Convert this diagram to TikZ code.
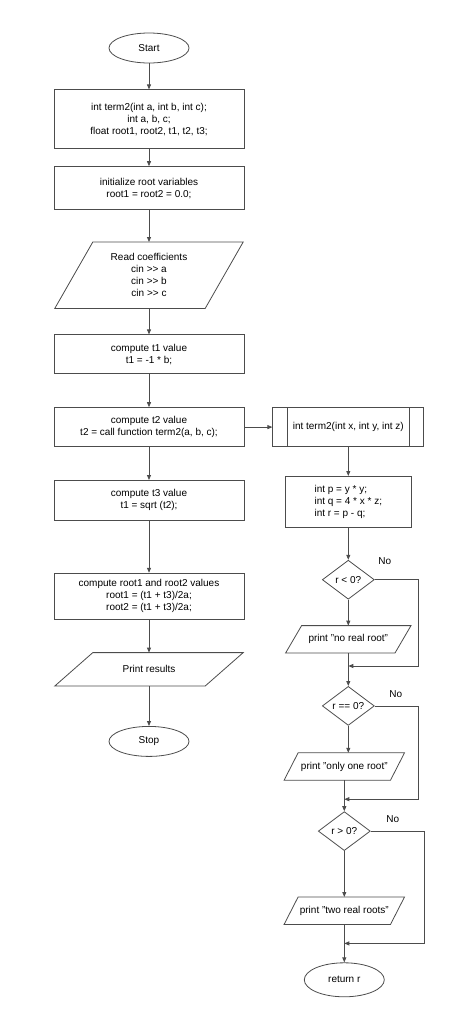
\documentclass[tikz,border=0pt]{standalone}
\usepackage{fontspec}
\setmainfont{Liberation Sans}
\usepackage{xcolor}
\usetikzlibrary{positioning,shapes.geometric,arrows.meta}

\definecolor{linegray}{gray}{0.3}

% parallelogram outline round a node
\newcommand{\ioframe}[2]{%
  \draw[linegray, line width=0.8pt] ([xshift=#2]#1.north west) -- (#1.north east)
    -- ([xshift=-#2]#1.south east) -- (#1.south west) -- cycle;}

\begin{document}
\begin{tikzpicture}[node distance=30pt]
    % Define styles
    \tikzstyle{terminal} = [ellipse, minimum width=80pt, minimum height=30pt, inner sep=0pt, text centered, draw=linegray, line width=0.8pt]
    \tikzstyle{process} = [rectangle, minimum width=190pt, inner sep=0pt, align=center, draw=linegray, line width=0.8pt]
    \tikzstyle{io} = [rectangle, minimum width=188pt, inner sep=0pt, align=center]
    \tikzstyle{decision} = [diamond, aspect=1.33, minimum width=52pt, minimum height=39pt, inner sep=0pt, text centered, draw=linegray, line width=0.8pt]
    \tikzstyle{branchtext} = [inner sep=0pt]
    \tikzstyle{arrow} = [linegray, line width=0.8pt, ->, >={Triangle[length=5pt,width=4pt]}]

    \useasboundingbox (0,0) rectangle (474pt,-1018pt);

    % Nodes
    \node (start) [terminal] at (149pt,-48pt) {Start};
    \node (decl) [process, minimum height=59pt, below=26pt of start] {int term2(int a, int b, int c);\\int a, b, c;\\float root1, root2, t1, t2, t3;};
    \node (init) [process, minimum height=43pt, below=17pt of decl] {initialize root variables\\root1 = root2 = 0.0;};
    \node (read) [io, minimum height=66pt, below=32pt of init] {Read coefficients\\cin >{}> a\\cin >{}> b\\cin >{}> c};
    \node (t1) [process, minimum height=39pt, below=26pt of read] {compute t1 value\\t1 = -1 * b;};
    \node (t2) [process, minimum height=39pt, below=33pt of t1] {compute t2 value\\t2 = call function term2(a, b, c);};
    \node (t3) [process, minimum height=40pt, below=33pt of t2] {compute t3 value\\t1 = sqrt (t2);};
    \node (roots) [process, minimum height=46pt, below=52pt of t3] {compute root1 and root2 values\\root1 = (t1 + t3)/2a;\\root2 = (t1 + t3)/2a;};
    \node (print) [io, minimum height=33pt, below=33pt of roots] {Print results};
    \node (stop) [terminal, below=40pt of print] {Stop};

    \node (func) [process, minimum width=151pt, minimum height=39pt, right=28pt of t2] {int term2(int x, int y, int z)};
    \node (calc) [process, minimum width=126pt, minimum height=51pt, align=left, below=29pt of func] {int p = y * y;\\int q = 4 * x * z;\\int r = p - q;};
    \node (d1) [decision, below=32pt of calc] {r < 0?};
    \node (p1) [io, minimum width=125pt, minimum height=27pt, below=26pt of d1] {print "no real root"};
    \node (d2) [decision, below=33pt of p1] {r == 0?};
    \node (p2) [io, minimum width=120pt, minimum height=27pt, below=27pt of d2, xshift=-4pt] {print "only one root"};
    \node (d3) [decision, below=31pt of p2] {r > 0?};
    \node (p3) [io, minimum width=120pt, minimum height=27pt, below=46pt of d3] {print "two real roots"};
    \node (ret) [terminal, minimum height=34pt, below=38pt of p3] {return r};

    \node (no1) [branchtext] at ([xshift=10pt,yshift=19pt]d1.east) {No};
    \node (no2) [branchtext] at ([xshift=21pt,yshift=12pt]d2.east) {No};
    \node (no3) [branchtext] at ([xshift=22pt,yshift=12pt]d3.east) {No};

    \coordinate (j1) at ([yshift=-13pt]p1.south);
    \coordinate (j2) at ([yshift=-19pt]p2.south);
    \coordinate (j3) at ([yshift=-19pt]p3.south);

    % Outlines
    \ioframe{read}{38pt}
    \ioframe{print}{38pt}
    \ioframe{p1}{16pt}
    \ioframe{p2}{14pt}
    \ioframe{p3}{14pt}
    \draw [linegray, line width=0.8pt] ([xshift=15pt]func.north west) -- ([xshift=15pt]func.south west);
    \draw [linegray, line width=0.8pt] ([xshift=-15pt]func.north east) -- ([xshift=-15pt]func.south east);

    % Arrows
    \draw [arrow] (start) -- (decl);
    \draw [arrow] (decl) -- (init);
    \draw [arrow] (init) -- (read);
    \draw [arrow] (read) -- (t1);
    \draw [arrow] (t1) -- (t2);
    \draw [arrow] (t2) -- (t3);
    \draw [arrow] (t3) -- (roots);
    \draw [arrow] (roots) -- (print);
    \draw [arrow] (print) -- (stop);

    \draw [arrow] (t2) -- (func);
    \draw [arrow] (func) -- (calc);
    \draw [arrow] (calc) -- (d1);
    \draw [arrow] (d1) -- (p1);
    \draw [arrow] (p1) -- (d2);
    \draw [arrow] (d2.south) -- (d2.south |- p2.north);
    \draw [arrow] (p2) -- (d3);
    \draw [arrow] (d3) -- (p3);
    \draw [arrow] (p3) -- (ret);

    \draw [arrow] (d1.east) -- ++(44pt,0) |- (j1);
    \draw [arrow] (d2.east) -- ++(44pt,0) |- (j2);
    \draw [arrow] (d3.east) -- ++(54pt,0) |- (j3);
\end{tikzpicture}
\end{document}
